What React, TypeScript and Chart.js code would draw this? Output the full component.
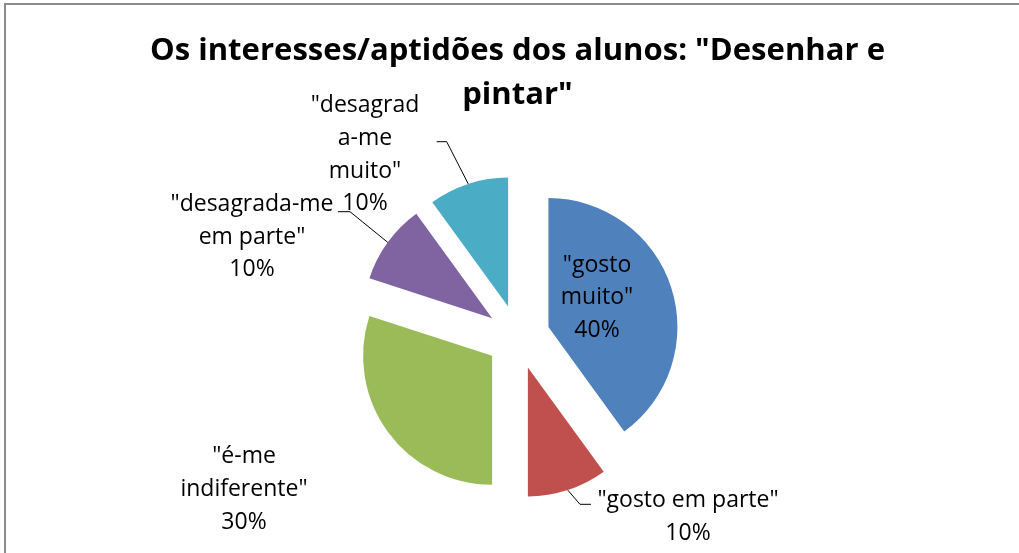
import React, { useEffect, useRef } from "react";
import { Chart, registerables } from "chart.js";

Chart.register(...registerables);

const categories: string[] = [
  '"gosto muito"',
  '"gosto em parte"',
  '"é-me indiferente"',
  '"desagrada-me em parte"',
  '"desagrada-me muito"',
];
const values: number[] = [40, 10, 30, 10, 10];
const colors: string[] = ["#4F81BD", "#C0504D", "#9BBB59", "#8064A2", "#4BACC6"];
const titleLines: string[] = ['Os interesses/aptidões dos alunos: "Desenhar e', 'pintar"'];
// label text lines (category wrapped); percentage appended
const labelLines: string[][] = [
  ['"gosto', 'muito"'],
  ['"gosto em parte"'],
  ['"é-me', 'indiferente"'],
  ['"desagrada-me', 'em parte"'],
  ['"desagrad', 'a-me', 'muito"'],
];

const W = 1019;
const H = 553;
const EXPLODE = 32; // px each slice is pulled out
const LABEL_FONT = "23px 'Open Sans'";
const TITLE_FONT = "bold 30px 'Open Sans'";
const TITLE_WIDTH = 735;
const LINE_H = 32.8;

// layout for labels: center x, first baseline y, leader (elbow, end) or null
const labelLayout = [
  { x: 597, y: 271.5, leader: null as null | number[] },
  { x: 688, y: 507, leader: [580, 504.3, 591, 504.3] },
  { x: 244, y: 463, leader: null },
  { x: 252, y: 210.7, leader: [350, 211.7, 338, 211.7] },
  { x: 365, y: 112, leader: [446.7, 141.7, 436.7, 141.7] },
];

const explodePlugin = {
  id: "explode",
  afterDatasetUpdate(chart: any, args: any) {
    const meta = chart.getDatasetMeta(args.index);
    meta.data.forEach((arc: any) => {
      const mid = (arc.startAngle + arc.endAngle) / 2;
      arc.x += Math.cos(mid) * EXPLODE;
      arc.y += Math.sin(mid) * EXPLODE;
    });
  },
};

const overlayPlugin = {
  id: "overlay",
  afterDraw(chart: any) {
    const ctx: CanvasRenderingContext2D = chart.ctx;
    ctx.save();
    // frame
    ctx.strokeStyle = "#8c8c8c";
    ctx.lineWidth = 2;
    ctx.beginPath();
    ctx.moveTo(W + 2, 4);
    ctx.lineTo(5, 4);
    ctx.lineTo(5, H + 2);
    ctx.stroke();

    // title
    ctx.fillStyle = "#000";
    ctx.font = TITLE_FONT;
    ctx.textAlign = "center";
    ctx.textBaseline = "alphabetic";
    const sx = TITLE_WIDTH / ctx.measureText(titleLines[0]).width;
    ctx.save();
    ctx.translate(517.5, 0);
    ctx.scale(sx, 1);
    ctx.fillText(titleLines[0], 0, 60);
    ctx.fillText(titleLines[1], 0, 104);
    ctx.restore();

    const meta = chart.getDatasetMeta(0);
    const total = values.reduce((a, b) => a + b, 0);
    ctx.font = LABEL_FONT;
    meta.data.forEach((arc: any, i: number) => {
      const mid = (arc.startAngle + arc.endAngle) / 2;
      const lay = labelLayout[i];
      const pct = Math.round((values[i] / total) * 100) + "%";
      const lines = [...labelLines[i], pct];
      ctx.fillStyle = "#000";
      lines.forEach((t, k) => ctx.fillText(t, lay.x, lay.y + k * LINE_H));
      if (lay.leader) {
        const ex = arc.x + Math.cos(mid) * arc.outerRadius;
        const ey = arc.y + Math.sin(mid) * arc.outerRadius;
        ctx.strokeStyle = "#000";
        ctx.lineWidth = 1;
        ctx.beginPath();
        ctx.moveTo(ex, ey);
        ctx.lineTo(lay.leader[0], lay.leader[1]);
        ctx.lineTo(lay.leader[2], lay.leader[3]);
        ctx.stroke();
      }
    });
    ctx.restore();
  },
};

export default function App() {
  const ref = useRef<HTMLCanvasElement>(null);
  useEffect(() => {
    if (!ref.current) return;
    const chart = new Chart(ref.current, {
      type: "pie",
      data: {
        labels: categories,
        datasets: [
          {
            data: values,
            backgroundColor: colors,
            borderWidth: 0,
            offset: 0,
            hoverOffset: 0,
          } as any,
        ],
      },
      options: {
        responsive: false,
        animation: false,
        radius: 129,
        layout: { padding: { left: 17, right: 0, top: 121, bottom: 0 } },
        plugins: {
          legend: { display: false },
          tooltip: { enabled: false },
          title: { display: false },
        },
        events: [],
      } as any,
      plugins: [explodePlugin, overlayPlugin],
    });
    return () => chart.destroy();
  }, []);
  return (
    <div style={{ position: "fixed", left: 0, top: 0, width: W, height: H, background: "#fff" }}>
      <canvas ref={ref} width={W} height={H} style={{ display: "block" }} />
    </div>
  );
}
